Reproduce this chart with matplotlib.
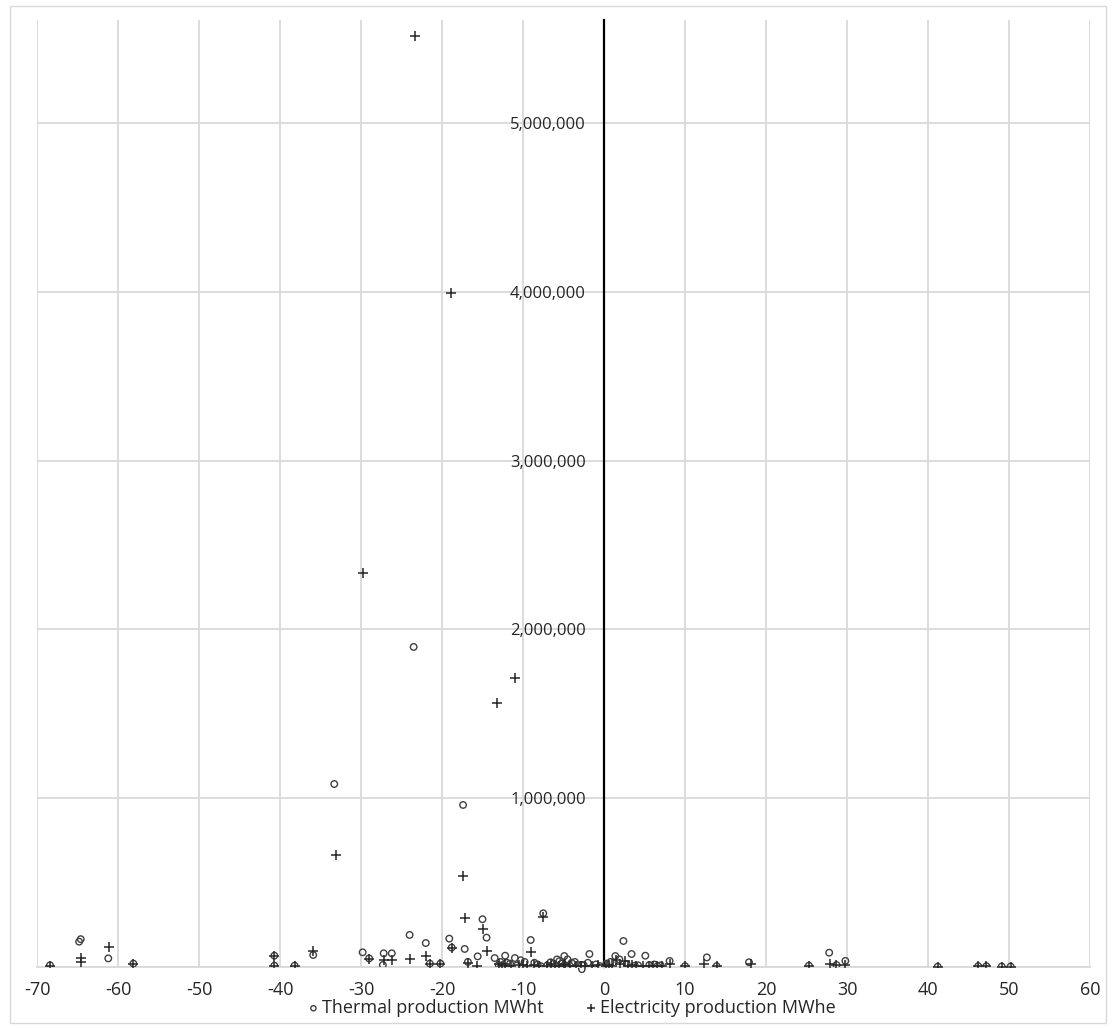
import matplotlib
matplotlib.use("Agg")
import matplotlib.pyplot as plt
from matplotlib.ticker import FuncFormatter, MultipleLocator
from matplotlib.patches import Rectangle

plt.rcParams["font.family"] = ["Open Sans", "DejaVu Sans"]
plt.rcParams["axes.unicode_minus"] = False

# Thermal production (MWht) -- open circles
thermal_x = [-68.4, -64.6, -64.8, -61.2, -58.1, -40.7, -40.7, -38.2, -35.9, -33.3,
             -29.8, -29.0, -27.3, -27.2, -26.2, -24.0, -23.5, -22.0, -21.5, -20.2,
             -19.1, -18.8, -17.4, -17.2, -16.8, -15.6, -15.0, -14.5, -13.5, -12.8,
             -12.2, -11.6, -11.0, -10.3, -9.05, -8.6, -7.5, -7.0, -6.2, -5.5,
             -4.9, -4.5, -4.0, -2.5, -1.8, -1.0, 0.3, 1.4, 2.4, 3.4,
             4.2, 5.1, 6.2, 7.0, 8.1, 10.0, 12.7, 13.9, 17.9, 25.3,
             27.8, 28.7, 29.8, 41.2, 46.2, 47.2, 49.1, 50.2,
             -13.0, -12.0, -10.8, -9.8, -8.2, -7.8, -6.6, -5.8, -5.2, -4.7,
             -3.6, -3.2, -2.0, -0.5, 0.8, 1.9, 2.8, 3.8, 5.6, 6.6]
thermal_y = [10000, 165000, 150000, 51000, 20000, 67000, 8000, 8000, 71000, 1084000,
             87000, 51000, 12000, 81000, 81000, 190000, 1896000, 142000, 20000, 20000,
             168000, 115000, 960000, 107000, 30000, 63000, 283000, 174000, 53000, 30000,
             67000, 20000, 53000, 40000, 160000, 25000, 318000, 10000, 20000, 35000,
             65000, 45000, 25000, 10000, 77000, 15000, 20000, 65000, 154000, 77000,
             10000, 67000, 15000, 10000, 36000, 5000, 57000, 5000, 28000, 8000,
             85000, 12000, 36000, 2000, 5000, 5000, 3000, 3000,
             12000, 25000, 8000, 30000, 15000, 5000, 28000, 45000, 20000, 8000,
             30000, 12000, 25000, 5000, 30000, 45000, 18000, 8000, 12000, 5000]

# Electricity production (MWhe) -- plus markers
elec_x = [-68.4, -64.6, -64.6, -61.1, -58.1, -40.7, -40.7, -38.2, -35.9, -33.1,
          -29.8, -29.0, -27.2, -26.2, -23.3, -23.9, -22.0, -21.5, -20.2, -18.9,
          -18.8, -17.4, -17.1, -16.8, -15.7, -14.9, -14.5, -13.2, -13.0, -12.2,
          -11.0, -10.5, -9.05, -8.6, -7.5, -7.0, -6.0, -5.0, -4.2, -2.3,
          -1.5, 0.2, 1.5, 2.6, 3.4, 5.5, 6.5, 8.1, 10.0, 12.3,
          13.9, 18.1, 25.3, 27.9, 28.7, 29.8, 41.2, 46.2, 47.2, 49.1, 50.2,
          -12.6, -11.5, -10.0, -9.5, -8.0, -6.5, -5.5, -4.8, -3.5, -2.8,
          -0.8, 0.6, 1.0, 2.0, 3.0, 4.0, 4.8, 6.0, 7.2]
elec_y = [3000, 53000, 30000, 117000, 15000, 67000, 5000, 5000, 95000, 663000,
          2334000, 45000, 40000, 40000, 5515000, 49000, 65000, 15000, 15000, 3990000,
          115000, 539000, 292000, 25000, 8000, 225000, 97000, 1564000, 20000, 15000,
          1712000, 10000, 87000, 10000, 294000, 5000, 8000, 10000, 5000, 5000,
          3000, 5000, 40000, 35000, 10000, 5000, 8000, 20000, 3000, 18000,
          3000, 15000, 5000, 18000, 10000, 12000, 1000, 3000, 3000, 2000, 2000,
          5000, 8000, 12000, 3000, 6000, 15000, 4000, 20000, 8000, 3000,
          10000, 12000, 6000, 15000, 4000, 8000, 3000, 6000, 4000]

W, H = 1113, 1028


def main():
    fig = plt.figure(figsize=(W / 100, H / 100), dpi=100)
    ax = fig.add_axes([37 / W, 1 - 967 / H, (1090 - 37) / W, (967 - 20) / H])

    # light outer frame around the chart
    fig.patches.append(Rectangle((10 / W, 5 / H), (1106 - 10) / W, (1022 - 5) / H,
                                 transform=fig.transFigure, fill=False,
                                 edgecolor="#d9d9d9", linewidth=1))

    ax.scatter(thermal_x, thermal_y, marker="o", s=22, facecolors="none",
               edgecolors="#404040", linewidths=1.0, zorder=3,
               label="Thermal production MWht")
    ax.scatter(elec_x, elec_y, marker="+", s=42, color="#262626",
               linewidths=1.1, zorder=3, label="Electricity production MWhe")

    ax.set_xlim(-70, 60)
    ax.set_ylim(0, 5610000)
    ax.xaxis.set_major_locator(MultipleLocator(10))
    ax.yaxis.set_major_locator(MultipleLocator(1000000))
    ax.yaxis.set_major_formatter(FuncFormatter(lambda v, p: f"{int(v):,}"))

    ax.grid(True, color="#d9d9d9", linewidth=1.3, zorder=0)
    ax.set_axisbelow(True)

    ax.spines["left"].set_position(("data", 0))
    ax.spines["left"].set_color("black")
    ax.spines["left"].set_linewidth(1.6)
    ax.spines["left"].set_zorder(2.5)
    ax.spines["bottom"].set_color("#d9d9d9")
    ax.spines["bottom"].set_linewidth(1.3)
    ax.spines["top"].set_visible(False)
    ax.spines["right"].set_visible(False)

    ax.tick_params(axis="y", length=0, pad=13, labelsize=12, labelcolor="#262626")
    ax.tick_params(axis="x", length=0, pad=10, labelsize=13, labelcolor="#262626")

    leg = ax.legend(loc="center", bbox_to_anchor=(571 / W, 1 - 1008 / H),
                    bbox_transform=fig.transFigure, ncol=2, frameon=False,
                    fontsize=13, handlelength=0.8, handletextpad=0.1,
                    columnspacing=2.2, borderaxespad=0, borderpad=0,
                    markerscale=0.8)
    for t in leg.get_texts():
        t.set_color("#262626")

    fig.savefig("out.png", dpi=100)
    plt.close(fig)


if __name__ == "__main__":
    main()
